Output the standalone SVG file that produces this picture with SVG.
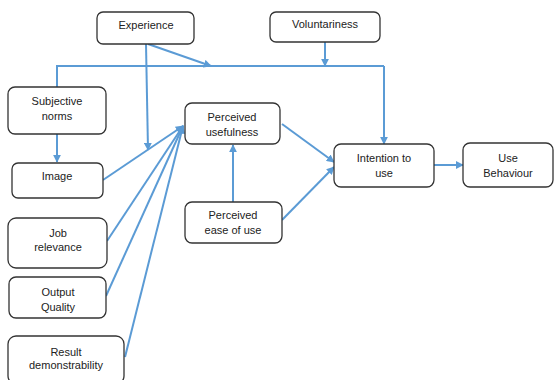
<svg xmlns="http://www.w3.org/2000/svg" width="555" height="380" viewBox="0 0 555 380">
<style>
.box{fill:#fff;stroke:#333;stroke-width:1.3}
.lbl{font-family:"Liberation Sans",Arial,sans-serif;font-size:11px;fill:#222;text-anchor:middle}
.c{fill:none;stroke:#5B9BD5;stroke-width:2}
.ca{fill:none;stroke:#5B9BD5;stroke-width:2;marker-end:url(#ah)}
</style>
<defs>
<marker id="ah" viewBox="0 0 10 10" refX="9" refY="5" markerWidth="4" markerHeight="4" orient="auto" markerUnits="strokeWidth">
<path d="M0,0 L10,5 L0,10 z" fill="#5B9BD5"/>
</marker>
</defs>
<rect width="555" height="380" fill="#fff"/>
<g id="connectors">
<polyline class="c" points="57,87 57,66 384,66"/>
<line class="ca" x1="384" y1="66" x2="384" y2="144"/>
<line class="ca" x1="325" y1="42" x2="325" y2="66"/>
<line class="ca" x1="148" y1="44" x2="211" y2="66"/>
<line class="ca" x1="146" y1="44" x2="148" y2="150"/>
<line class="ca" x1="57" y1="134" x2="57" y2="162"/>
<line class="ca" x1="103" y1="180" x2="183" y2="126"/>
<line class="ca" x1="107" y1="241" x2="183" y2="126"/>
<line class="ca" x1="106" y1="296" x2="183" y2="126"/>
<line class="ca" x1="125" y1="357" x2="183" y2="126"/>
<line class="ca" x1="233" y1="202" x2="233" y2="145"/>
<line class="ca" x1="282" y1="124" x2="334" y2="162"/>
<line class="ca" x1="282" y1="220" x2="334" y2="167"/>
<line class="ca" x1="434" y1="165" x2="463" y2="165"/>
</g>
<g id="experience"><rect class="box" x="97" y="12" width="97" height="32" rx="6"/><text class="lbl" x="146" y="29">Experience</text></g>
<g id="voluntariness"><rect class="box" x="270" y="12" width="110" height="30" rx="6"/><text class="lbl" x="325" y="28">Voluntariness</text></g>
<g id="subjective-norms"><rect class="box" x="8" y="87" width="98" height="47" rx="7"/><text class="lbl" x="57" y="105">Subjective</text><text class="lbl" x="57" y="120">norms</text></g>
<g id="perceived-usefulness"><rect class="box" x="185" y="103" width="95" height="41" rx="7"/><text class="lbl" x="232" y="121">Perceived</text><text class="lbl" x="232" y="136">usefulness</text></g>
<g id="image"><rect class="box" x="12" y="163" width="91" height="35" rx="6"/><text class="lbl" x="57" y="180">Image</text></g>
<g id="job-relevance"><rect class="box" x="8" y="218" width="99" height="50" rx="8"/><text class="lbl" x="58" y="237">Job</text><text class="lbl" x="58" y="251">relevance</text></g>
<g id="output-quality"><rect class="box" x="9" y="277" width="97" height="41" rx="7"/><text class="lbl" x="58" y="296">Output</text><text class="lbl" x="58" y="311">Quality</text></g>
<g id="result-demonstrability"><rect class="box" x="8" y="336" width="116" height="48" rx="8"/><text class="lbl" x="66" y="356">Result</text><text class="lbl" x="66" y="369">demonstrability</text></g>
<g id="perceived-ease-of-use"><rect class="box" x="185" y="202" width="97" height="41" rx="7"/><text class="lbl" x="233" y="219">Perceived</text><text class="lbl" x="233" y="234">ease of use</text></g>
<g id="intention-to-use"><rect class="box" x="334" y="144" width="100" height="43" rx="7"/><text class="lbl" x="384" y="162">Intention to</text><text class="lbl" x="384" y="177">use</text></g>
<g id="use-behaviour"><rect class="box" x="463" y="143" width="90" height="44" rx="7"/><text class="lbl" x="508" y="162">Use</text><text class="lbl" x="508" y="177">Behaviour</text></g>
</svg>
